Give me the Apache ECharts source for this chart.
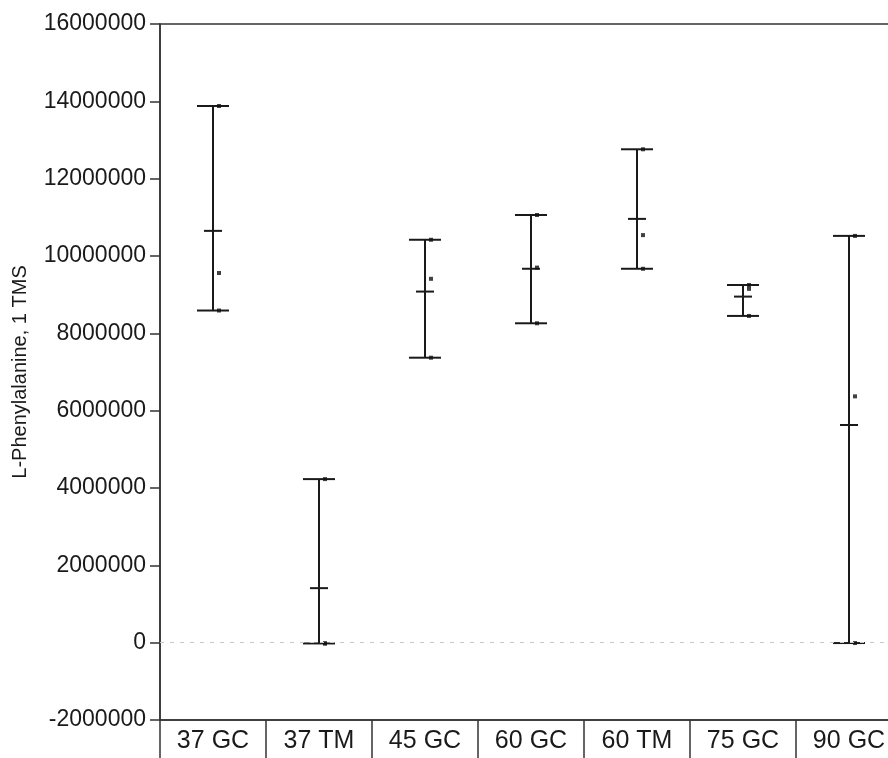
<!DOCTYPE html>
<html>
<head>
<meta charset="utf-8">
<script src="https://cdn.jsdelivr.net/npm/echarts@6/dist/echarts.min.js"></script>
<style>
html,body{margin:0;padding:0;background:#fff;}
#chart{width:888px;height:758px;}
</style>
</head>
<body>
<div id="chart"></div>
<script>
const categories = ['37 GC', '37 TM', '45 GC', '60 GC', '60 TM', '75 GC', '90 GC'];
const minVals  = [8590000, -20000, 7370000, 8260000, 9670000, 8450000, -10000];
const maxVals  = [13880000, 4230000, 10420000, 11060000, 12760000, 9250000, 10520000];
const meanVals = [10650000, 1410000, 9080000, 9670000, 10960000, 8950000, 5630000];
const rep1 = [13880000, 4230000, 10420000, 11060000, 12760000, 9250000, 10520000];
const rep2 = [9560000, -20000, 9410000, 9700000, 10540000, 9150000, 6370000];
const rep3 = [8590000, -20000, 7370000, 8260000, 9670000, 8450000, -10000];
const yTicks = [-2000000, 0, 2000000, 4000000, 6000000, 8000000, 10000000, 12000000, 14000000, 16000000];
const yAxisName = 'L-Phenylalanine, 1 TMS';

const FONT = 'Liberation Sans, Arial, sans-serif';
const INK = '#1a1a1a';

const barData = categories.map((c, i) => [i, minVals[i], maxVals[i], meanVals[i]]);
const pointData = [];
categories.forEach((c, i) => {
  pointData.push([i, rep1[i]]);
  pointData.push([i, rep2[i]]);
  pointData.push([i, rep3[i]]);
});

const chart = echarts.init(document.getElementById('chart'), null, {renderer: 'canvas'});
chart.setOption({
  animation: false,
  backgroundColor: '#fff',
  grid: {left: 160, right: -14, top: 24, bottom: 38, containLabel: false, outerBoundsMode: 'none',
         show: true, borderColor: '#333', borderWidth: 1.5, backgroundColor: 'transparent'},
  xAxis: {
    type: 'category',
    data: categories,
    boundaryGap: true,
    axisLine: {show: true, onZero: false, lineStyle: {color: '#333', width: 1.5}},
    axisTick: {show: true, length: 40, lineStyle: {color: '#333', width: 1.5}},
    axisLabel: {fontFamily: FONT, fontSize: 25, color: INK, margin: 9},
    splitLine: {show: false}
  },
  yAxis: {
    type: 'value',
    min: yTicks[0],
    max: yTicks[yTicks.length - 1],
    interval: 2000000,
    axisLine: {show: true, lineStyle: {color: '#333', width: 1.5}},
    axisTick: {show: true, length: 10, lineStyle: {color: '#333', width: 1.5}},
    axisLabel: {fontFamily: FONT, fontSize: 23, color: INK, margin: 14, formatter: v => String(v)},
    splitLine: {show: false},
    name: yAxisName,
    nameLocation: 'middle',
    nameRotate: 90,
    nameGap: 130,
    nameTextStyle: {fontFamily: FONT, fontSize: 20, color: INK}
  },
  series: [
    {
      type: 'custom',
      renderItem: function (params, api) {
        const x = api.value(0);
        const lo = api.coord([x, api.value(1)]);
        const hi = api.coord([x, api.value(2)]);
        const mn = api.coord([x, api.value(3)]);
        const w = 16, mw = 9;
        const style = {stroke: INK, lineWidth: 2};
        return {
          type: 'group',
          children: [
            {type: 'line', shape: {x1: lo[0], y1: lo[1], x2: hi[0], y2: hi[1]}, style: style},
            {type: 'line', shape: {x1: lo[0] - w, y1: lo[1], x2: lo[0] + w, y2: lo[1]}, style: style},
            {type: 'line', shape: {x1: hi[0] - w, y1: hi[1], x2: hi[0] + w, y2: hi[1]}, style: style},
            {type: 'line', shape: {x1: mn[0] - mw, y1: mn[1], x2: mn[0] + mw, y2: mn[1]}, style: style}
          ]
        };
      },
      data: barData,
      z: 3,
      markLine: {
        silent: true,
        symbol: 'none',
        label: {show: false},
        lineStyle: {color: '#c8c8c8', type: [4, 6], width: 1.2},
        data: [{yAxis: 0}]
      }
    },
    {
      type: 'scatter',
      symbol: 'rect',
      symbolSize: 4,
      symbolOffset: [6, 0],
      itemStyle: {color: '#111'},
      data: pointData,
      z: 4
    }
  ]
});
</script>
</body>
</html>
